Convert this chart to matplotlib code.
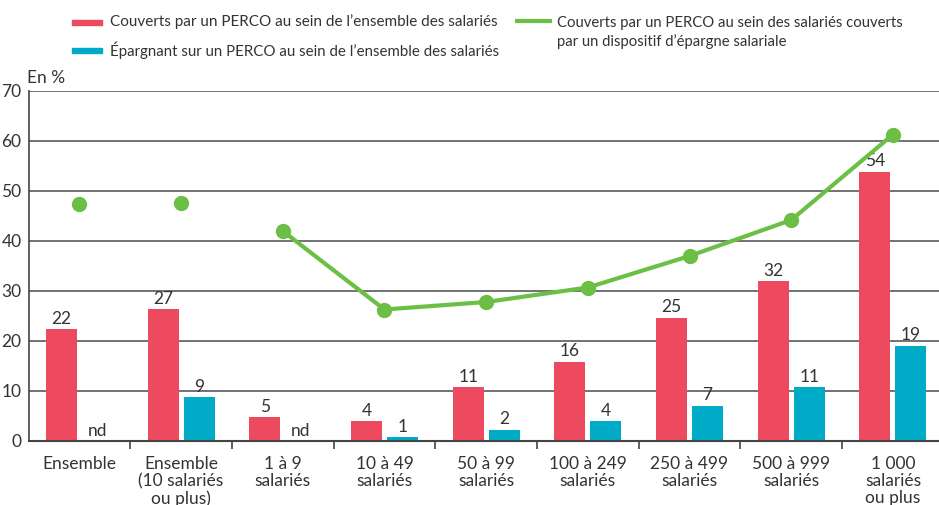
import matplotlib
matplotlib.use("Agg")
import matplotlib.pyplot as plt
import numpy as np
from matplotlib.patches import Rectangle
from matplotlib.lines import Line2D

plt.rcParams["font.family"] = ["Lato", "DejaVu Sans"]

categories = ["Ensemble", "Ensemble\n(10 salariés\nou plus)", "1 à 9\nsalariés", "10 à 49\nsalariés",
              "50 à 99\nsalariés", "100 à 249\nsalariés", "250 à 499\nsalariés", "500 à 999\nsalariés",
              "1 000\nsalariés\nou plus"]
couverts = [22.3, 26.3, 4.8, 4.0, 10.8, 15.8, 24.6, 32.0, 53.8]
couverts_lbl = ["22", "27", "5", "4", "11", "16", "25", "32", "54"]
epargnant = [np.nan, 8.8, np.nan, 0.8, 2.2, 4.0, 7.0, 10.7, 19.0]
epargnant_lbl = ["nd", "9", "nd", "1", "2", "4", "7", "11", "19"]
couverts_dispositif = [47.3, 47.6, 41.9, 26.2, 27.7, 30.6, 36.9, 44.1, 61.2]

RED, BLUE, GREEN, TXT = "#ee4a5f", "#00abc8", "#6cbf45", "#333333"
W, H = 939, 505

fig = plt.figure(figsize=(W / 100, H / 100), dpi=100)
ax = fig.add_axes([28.5 / W, (H - 440.5) / H, (W - 28.5) / W, 350 / H])
x = np.arange(len(categories))
ax.bar(x - 0.177, couverts, width=0.305, color=RED, zorder=3)
ax.bar(x + 0.177, np.nan_to_num(epargnant), width=0.305, color=BLUE, zorder=3)
for i in x:
    ax.text(i - 0.177, couverts[i] + 0.4, couverts_lbl[i], ha="center", va="bottom", fontsize=12.5, color=TXT, zorder=4)
    ev = 0 if np.isnan(epargnant[i]) else epargnant[i]
    ax.text(i + 0.177, ev + 0.4, epargnant_lbl[i], ha="center", va="bottom", fontsize=12.5, color=TXT, zorder=4)
ax.plot(x[2:], couverts_dispositif[2:], color=GREEN, lw=3, zorder=5)
ax.plot(x, couverts_dispositif, "o", color=GREEN, ms=10, zorder=5)

ax.set_ylim(0, 70); ax.set_xlim(-0.5, -0.5 + (W - 28.5) / 101.7)
ax.set_yticks(range(0, 71, 10))
ax.grid(axis="y", color="#5a5a5a", lw=1.2, zorder=1)
ax.set_xticks(x, categories, fontsize=12.5, color=TXT, linespacing=1.1)
ax.set_xticks(np.arange(0.5, 8.5, 1), minor=True)
ax.tick_params(axis="x", which="major", length=0, pad=11)
ax.tick_params(axis="x", which="minor", length=6, width=1.2, color="#444444")
ax.tick_params(axis="y", length=0, pad=5, labelsize=12.5, labelcolor=TXT)
for s in ("top", "right"): ax.spines[s].set_visible(False)
ax.spines["left"].set_color("#444444"); ax.spines["left"].set_linewidth(1.2)
ax.spines["bottom"].set_color("#444444"); ax.spines["bottom"].set_linewidth(1.5)
ax.spines["bottom"].set_zorder(4)

fig.text(27 / W, 1 - 78 / H, "En %", fontsize=12.5, color=TXT, va="center")
# legend
fig.add_artist(Rectangle((72 / W, 1 - 25 / H), 30 / W, 5 / H, color=RED, transform=fig.transFigure))
fig.add_artist(Rectangle((72 / W, 1 - 53 / H), 30 / W, 5 / H, color=BLUE, transform=fig.transFigure))
fig.add_artist(Line2D([517 / W, 550 / W], [1 - 21 / H] * 2, color=GREEN, lw=3, transform=fig.transFigure))
leg = [fig.text(110 / W, 1 - 22 / H, "Couverts par un PERCO au sein de l’ensemble des salariés", fontsize=13, color=TXT, va="center"),
       fig.text(110 / W, 1 - 50 / H, "Épargnant sur un PERCO au sein de l’ensemble des salariés", fontsize=13, color=TXT, va="center"),
       fig.text(557 / W, 1 - 32.5 / H, "Couverts par un PERCO au sein des salariés couverts\npar un dispositif d’épargne salariale",
                fontsize=13, color=TXT, va="center", linespacing=1.35)]
# shrink legend texts so they keep the reference widths
renderer = fig.canvas.get_renderer()
for t, target in zip(leg, (388, 388, 345)):
    w = t.get_window_extent(renderer).width
    if w > target: t.set_fontsize(13 * target / w)

fig.savefig("out.png", dpi=100)
